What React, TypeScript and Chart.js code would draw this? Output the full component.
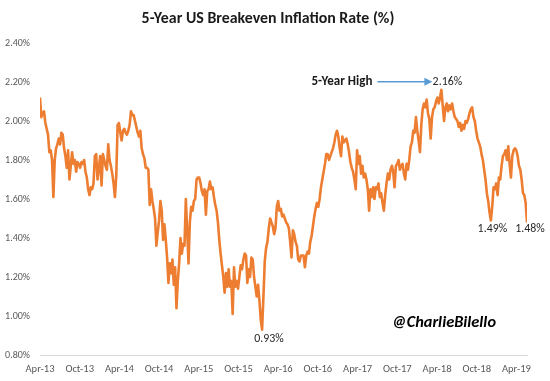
import React, { useEffect, useRef } from "react";
import { Chart, registerables } from "chart.js";

Chart.register(...registerables);

// Axis tick labels (every 6 months, starting Apr 2013)
const tickLabels = ["Apr-13", "Oct-13", "Apr-14", "Oct-14", "Apr-15", "Oct-15", "Apr-16", "Oct-16", "Apr-17", "Oct-17", "Apr-18", "Oct-18", "Apr-19"];
// Months covered by the series (Apr 2013 -> mid May 2019)
const spanMonths = 73.6;

// 5-Year breakeven inflation rate (%), roughly weekly observations
const apr13ToJun14 = [
  2.12, 2.02, 2.04, 2.05, 1.99, 1.96, 1.93, 1.84, 1.85, 1.80,
  1.61, 1.80, 1.86, 1.88, 1.91, 1.88, 1.94, 1.93, 1.86, 1.82,
  1.76, 1.85, 1.70, 1.77, 1.84, 1.78, 1.80, 1.74, 1.79, 1.78,
  1.76, 1.79, 1.78, 1.80, 1.74, 1.71, 1.65, 1.62, 1.66, 1.65,
  1.68, 1.82, 1.83, 1.70, 1.76, 1.82, 1.67, 1.83, 1.80, 1.77,
  1.75, 1.88, 1.80, 1.77, 1.73, 1.68, 1.61, 1.72, 1.98, 1.99,
  1.94, 1.90, 1.95, 1.96, 1.94, 1.93, 1.95, 1.98, 2.05, 2.03,
];
const jun14ToSep15 = [
  2.03, 2.00, 1.97, 1.94, 1.92, 1.95, 1.86, 1.83, 1.81, 1.76,
  1.76, 1.75, 1.57, 1.65, 1.59, 1.55, 1.50, 1.36, 1.43, 1.49,
  1.59, 1.54, 1.39, 1.47, 1.39, 1.30, 1.17, 1.27, 1.22, 1.29,
  1.16, 1.25, 1.04, 1.18, 1.27, 1.40, 1.32, 1.37, 1.36, 1.60,
  1.44, 1.27, 1.48, 1.56, 1.54, 1.59, 1.60, 1.70, 1.71, 1.71,
  1.68, 1.64, 1.62, 1.65, 1.52, 1.64, 1.65, 1.69, 1.65, 1.66,
  1.61, 1.57, 1.54, 1.48, 1.39, 1.32, 1.26, 1.20, 1.12, 1.22,
  1.15, 1.24, 1.15, 1.18, 1.01,
];
const sep15ToDec16 = [
  1.25, 1.15, 1.18, 1.14, 1.20, 1.26, 1.24, 1.29, 1.32, 1.31,
  1.17, 1.24, 1.20, 1.30, 1.29, 1.20, 1.15, 1.10, 1.16, 1.08,
  0.98, 0.93, 1.10, 1.28, 1.35, 1.38, 1.45, 1.50, 1.48, 1.46,
  1.42, 1.45, 1.56, 1.59, 1.54, 1.55, 1.51, 1.52, 1.50, 1.48,
  1.47, 1.45, 1.38, 1.30, 1.44, 1.42, 1.38, 1.36, 1.29, 1.28,
  1.31, 1.31, 1.31, 1.25, 1.31, 1.33, 1.32, 1.38, 1.41, 1.46,
  1.51, 1.55, 1.58, 1.56, 1.60, 1.66, 1.70, 1.74, 1.78, 1.83,
  1.83, 1.80, 1.82, 1.84, 1.86,
];
const dec16ToMar18 = [
  1.89, 1.93, 1.95, 1.92, 1.86, 1.82, 1.92, 1.89, 1.90, 1.91,
  1.88, 1.84, 1.79, 1.76, 1.74, 1.70, 1.65, 1.85, 1.78, 1.82,
  1.73, 1.77, 1.71, 1.73, 1.70, 1.65, 1.54, 1.65, 1.61, 1.66,
  1.60, 1.66, 1.65, 1.68, 1.61, 1.63, 1.58, 1.54, 1.62, 1.68,
  1.73, 1.70, 1.75, 1.77, 1.74, 1.66, 1.77, 1.78, 1.80, 1.75,
  1.77, 1.78, 1.73, 1.70, 1.78, 1.75, 1.80, 1.87, 1.89, 1.95,
  1.94, 2.02, 1.95, 1.90, 1.84, 1.98, 2.06, 2.09, 2.07, 2.11,
  2.04, 2.01, 1.91, 2.02, 2.06,
];
const mar18ToMay19 = [
  2.07, 2.10, 2.12, 2.09, 2.12, 2.16, 2.08, 2.00, 2.07, 2.09,
  2.05, 2.08, 2.06, 2.09, 2.05, 2.02, 2.01, 2.00, 1.97, 1.99,
  1.95, 1.98, 1.96, 2.00, 1.99, 2.01, 2.04, 2.06, 2.07, 2.02,
  2.00, 1.95, 1.91, 1.89, 1.87, 1.83, 1.80, 1.75, 1.70, 1.63,
  1.59, 1.53, 1.49, 1.56, 1.66, 1.65, 1.68, 1.62, 1.71, 1.70,
  1.77, 1.82, 1.83, 1.85, 1.80, 1.87, 1.78, 1.71, 1.82, 1.85,
  1.86, 1.85, 1.82, 1.77, 1.75, 1.70, 1.63, 1.62, 1.58, 1.48,
];

const title = "5-Year US Breakeven Inflation Rate (%)";
const highNote = "5-Year High";
const watermark = "@CharlieBilello";

const allValues = [...apr13ToJun14, ...jun14ToSep15, ...sep15ToDec16, ...dec16ToMar18, ...mar18ToMay19];
const monthOf = (i: number) => (i * spanMonths) / (allValues.length - 1);

const FONT = "Carlito, Lato, 'Open Sans', sans-serif";
const LINE_COLOR = "#ED7D31";

function fitSize(ctx: CanvasRenderingContext2D, text: string, style: string, width: number) {
  ctx.font = `${style} 20px ${FONT}`;
  const w = ctx.measureText(text).width;
  return (20 * width) / w;
}
function fitFont(ctx: CanvasRenderingContext2D, text: string, style: string, width: number) {
  return `${style} ${fitSize(ctx, text, style, width).toFixed(2)}px ${FONT}`;
}

const annotatePlugin = {
  id: "annotate",
  afterDraw(chart: any) {
    const { ctx, scales } = chart;
    const x = scales.x;
    const y = scales.y;
    const n = allValues.length;

    let maxI = 0;
    let minI = 0;
    allValues.forEach((v, i) => {
      if (v > allValues[maxI]) maxI = i;
      if (v < allValues[minI]) minI = i;
    });
    const lastI = n - 1;
    const segStart = n - mar18ToMay19.length;
    let locI = segStart;
    for (let i = segStart; i < lastI; i++) if (allValues[i] < allValues[locI]) locI = i;

    const pos = (i: number) => ({ px: x.getPixelForValue(monthOf(i)), py: y.getPixelForValue(allValues[i]) });
    const fmt = (v: number) => v.toFixed(2) + "%";

    ctx.save();
    // Title
    ctx.fillStyle = "#1a1a1a";
    ctx.textAlign = "center";
    ctx.textBaseline = "middle";
    ctx.font = fitFont(ctx, title, "bold", 253);
    ctx.fillText(title, 268, 19);

    const labelFont = fitFont(ctx, "0.93%", "", 29.5);

    // 5-Year High
    const hi = pos(maxI);
    ctx.fillStyle = "#262626";
    ctx.font = labelFont;
    ctx.fillText(fmt(allValues[maxI]), hi.px + 6, hi.py - 8);
    ctx.strokeStyle = "#5B9BD5";
    ctx.fillStyle = "#5B9BD5";
    ctx.lineWidth = 1.5;
    ctx.beginPath();
    ctx.moveTo(hi.px - 64, hi.py - 8);
    ctx.lineTo(hi.px - 16, hi.py - 8);
    ctx.stroke();
    ctx.beginPath();
    ctx.moveTo(hi.px - 9, hi.py - 8);
    ctx.lineTo(hi.px - 17, hi.py - 12);
    ctx.lineTo(hi.px - 17, hi.py - 4);
    ctx.closePath();
    ctx.fill();
    ctx.fillStyle = "#1a1a1a";
    ctx.textAlign = "right";
    ctx.font = fitFont(ctx, highNote, "bold", 61);
    ctx.fillText(highNote, hi.px - 69, hi.py - 8);

    ctx.fillStyle = "#262626";
    ctx.textAlign = "center";
    ctx.font = labelFont;
    const lo = pos(minI);
    ctx.fillText(fmt(allValues[minI]), lo.px + 7, lo.py + 9);
    const lc = pos(locI);
    ctx.fillText(fmt(allValues[locI]), lc.px + 1.5, lc.py + 9);
    const ls = pos(lastI);
    ctx.fillText(fmt(allValues[lastI]), ls.px + 3, ls.py + 7);

    // watermark
    ctx.fillStyle = "#000";
    ctx.font = fitFont(ctx, watermark, "italic bold", 104);
    ctx.fillText(watermark, 444, 323);
    ctx.restore();
  },
};

export default function App() {
  const canvasRef = useRef<HTMLCanvasElement | null>(null);

  useEffect(() => {
    document.body.style.margin = "0";
    const canvas = canvasRef.current;
    if (!canvas) return;
    const mctx = canvas.getContext("2d") as CanvasRenderingContext2D;
    const ySize = fitSize(mctx, "2.40%", "", 25);
    const xSize = fitSize(mctx, "Apr-13", "", 29);
    const data = allValues.map((v, i) => ({ x: monthOf(i), y: v }));

    const chart = new Chart(canvas, {
      type: "line",
      data: {
        datasets: [
          {
            data,
            borderColor: LINE_COLOR,
            borderWidth: 2.6,
            pointRadius: 0,
            tension: 0,
            borderJoinStyle: "round",
            fill: false,
          },
        ],
      },
      options: {
        animation: false,
        responsive: false,
        devicePixelRatio: 1,
        layout: { padding: { left: 5, right: 23, top: 43, bottom: 0 } },
        plugins: {
          legend: { display: false },
          tooltip: { enabled: false },
          title: { display: false },
        },
        scales: {
          x: {
            type: "linear",
            min: 0,
            max: spanMonths,
            afterBuildTicks: (s: any) => {
              s.ticks = tickLabels.map((_, i) => ({ value: i * 6 }));
            },
            afterFit: (s: any) => {
              s.height = 26;
            },
            ticks: {
              autoSkip: false,
              maxRotation: 0,
              padding: 8,
              color: "#595959",
              font: { family: FONT, size: xSize },
              callback: (v: any) => tickLabels[Math.round(Number(v) / 6)] ?? "",
            },
            grid: { display: false, drawTicks: false },
            border: { display: true, color: "#d9d9d9", width: 1 },
          },
          y: {
            min: 0.8,
            max: 2.4,
            afterFit: (s: any) => {
              s.width = 35;
            },
            ticks: {
              stepSize: 0.2,
              padding: 10,
              color: "#595959",
              font: { family: FONT, size: ySize },
              callback: (v: any) => Number(v).toFixed(2) + "%",
            },
            grid: { display: false, drawTicks: false },
            border: { display: false },
          },
        },
      },
      plugins: [annotatePlugin],
    } as any);

    return () => chart.destroy();
  }, []);

  return (
    <div style={{ width: 550, height: 381, background: "#fff" }}>
      <canvas ref={canvasRef} width={550} height={381} />
    </div>
  );
}
